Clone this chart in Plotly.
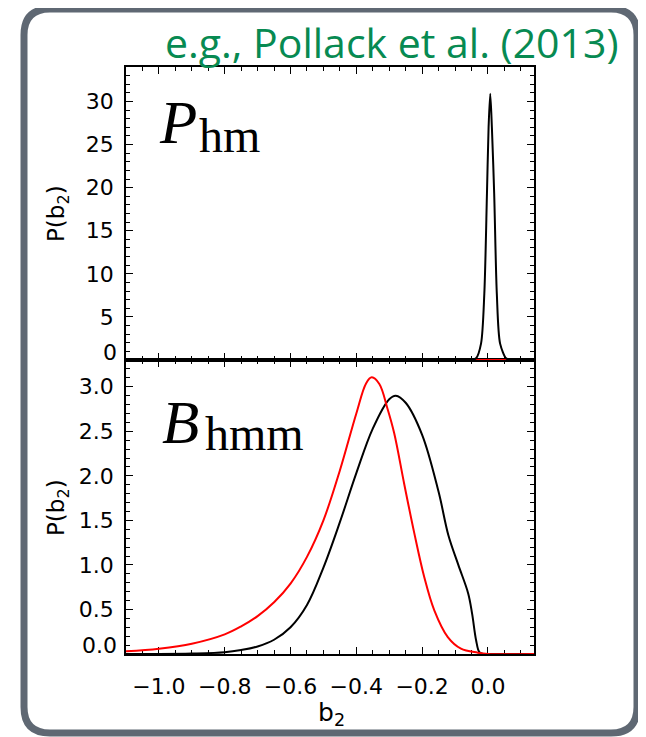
import plotly.graph_objects as go

# ---------------- data ----------------
# top panel (P_hm): black curve
top_black_x = [-1.1, -0.5, -0.08, -0.045, -0.036, -0.021, -0.011, -0.003, 0.002, 0.007,
               0.012, 0.019, 0.027, 0.037, 0.055, 0.063, 0.09, 0.14]
top_black_y = [0.0, 0.0, 0.0, 0.05, 0.2, 1.9, 7.7, 19.3, 27.0, 30.9,
               27.0, 19.3, 7.7, 1.9, 0.2, 0.05, 0.0, 0.0]
# top panel red curve (flat at zero)
top_red_x = [-1.1, 0.14]
top_red_y = [0.0, 0.0]

# bottom panel (B_hmm)
bot_black_x = [-1.1, -1.0, -0.9, -0.8, -0.75, -0.7, -0.65, -0.6, -0.55, -0.5,
               -0.45, -0.4, -0.35, -0.3, -0.28, -0.25, -0.2, -0.15, -0.12,
               -0.09, -0.06, -0.048, -0.036, -0.026, -0.015, 0.0, 0.14]
bot_black_y = [0.0, 0.0, 0.005, 0.02, 0.045, 0.085, 0.16, 0.3, 0.55, 0.97,
               1.48, 2.03, 2.53, 2.86, 2.90, 2.82, 2.46, 1.82, 1.33,
               1.0, 0.68, 0.45, 0.155, 0.02, 0.0, 0.0, 0.0]
bot_red_x = [-1.1, -1.0, -0.9, -0.8, -0.75, -0.7, -0.65, -0.6, -0.55, -0.5,
             -0.45, -0.4, -0.37, -0.353, -0.33, -0.305, -0.285, -0.254, -0.224, -0.194,
             -0.163, -0.122, -0.082, -0.031, 0.0, 0.14]
bot_red_y = [0.03, 0.06, 0.115, 0.22, 0.31, 0.425, 0.58, 0.79, 1.09, 1.5,
             2.06, 2.7, 3.04, 3.105, 3.03, 2.75, 2.48, 1.90, 1.36, 0.87,
             0.49, 0.19, 0.06, 0.015, 0.0, 0.0]

x_tickvals = [-1.0, -0.8, -0.6, -0.4, -0.2, 0.0]
top_tickvals = [5, 10, 15, 20, 25, 30]
top_ticktext = ["5", "10", "15", "20", "25", "30"]
bot_tickvals = [0.5, 1.0, 1.5, 2.0, 2.5, 3.0]
bot_ticktext = ["0.5", "1.0", "1.5", "2.0", "2.5", "3.0"]
top_zero_label = "0"
bot_zero_label = "0.0"

title_text = "e.g., Pollack et al. (2013)"
y_title = "P(b<sub>2</sub>)"
x_title = "b<sub>2</sub>"

# ---------------- layout helpers ----------------
# the page body adds an 8 px margin, so the figure is 8 px smaller and shifted
OFF = 8
W, H = 646 - OFF, 737 - OFF
ML_REF, MT_REF = 126, 67
PW, PH = 408, 587
ML, MT = ML_REF - OFF, MT_REF - OFF
MR, MB = W - ML - PW, H - MT - PH
BOTTOM_REF = MT_REF + PH  # 654
def px(xp):
    return (xp - ML_REF) / PW
def py(yp):
    return (BOTTOM_REF - yp) / PH

split = py(360)

fig = go.Figure()
fig.add_trace(go.Scatter(x=top_red_x, y=top_red_y, xaxis="x2", yaxis="y2", mode="lines",
                         line=dict(color="red", width=2), showlegend=False))
fig.add_trace(go.Scatter(x=top_black_x, y=top_black_y, xaxis="x2", yaxis="y2", mode="lines",
                         line=dict(color="black", width=2, shape="spline", smoothing=0.8),
                         showlegend=False))
fig.add_trace(go.Scatter(x=bot_black_x, y=bot_black_y, xaxis="x", yaxis="y", mode="lines",
                         line=dict(color="black", width=2, shape="spline", smoothing=1.0),
                         showlegend=False))
fig.add_trace(go.Scatter(x=bot_red_x, y=bot_red_y, xaxis="x", yaxis="y", mode="lines",
                         line=dict(color="red", width=2, shape="spline", smoothing=1.0),
                         showlegend=False))

tickfont = dict(family="DejaVu Sans", size=22, color="black")
common = dict(showline=True, linecolor="black", linewidth=1.5, mirror="ticks",
              ticks="inside", ticklen=7, tickwidth=1, tickcolor="black",
              showgrid=False, zeroline=False, layer="below traces", tickfont=tickfont)

fig.update_layout(
    width=W, height=H,
    margin=dict(l=ML, r=MR, t=MT, b=MB),
    paper_bgcolor="white", plot_bgcolor="white",
    xaxis=dict(domain=[0, 1], anchor="y", range=[-1.1, 0.14], tickmode="array",
               tickvals=x_tickvals, tickformat=".1f", ticklabelstandoff=12,
               minor=dict(ticks="inside", ticklen=4, tickwidth=1, tickcolor="black",
                          tickmode="linear", tick0=0, dtick=0.05),
               **common),
    xaxis2=dict(domain=[0, 1], anchor="y2", range=[-1.1, 0.14], matches="x",
                tickmode="array", tickvals=x_tickvals, showticklabels=False,
                minor=dict(ticks="inside", ticklen=4, tickwidth=1, tickcolor="black",
                           tickmode="linear", tick0=0, dtick=0.05),
                **common),
    yaxis=dict(domain=[0, split], anchor="x", range=[0, 3.3], tickmode="array",
               tickvals=bot_tickvals, ticktext=bot_ticktext, ticklabelstandoff=6,
               minor=dict(ticks="inside", ticklen=4, tickwidth=1, tickcolor="black",
                          tickmode="linear", tick0=0, dtick=0.1),
               **common),
    yaxis2=dict(domain=[split, 1], anchor="x2", range=[0, 34], tickmode="array",
                tickvals=top_tickvals, ticktext=top_ticktext, ticklabelstandoff=6,
                minor=dict(ticks="inside", ticklen=4, tickwidth=1, tickcolor="black",
                           tickmode="linear", tick0=0, dtick=1),
                **common),
)

ann = []
# zero labels, raised like the original
ann.append(dict(text=top_zero_label, xref="paper", yref="y2", x=0, y=0, xanchor="right",
                yanchor="middle", xshift=-7, yshift=8, showarrow=False, font=tickfont))
ann.append(dict(text=bot_zero_label, xref="paper", yref="y", x=0, y=0, xanchor="right",
                yanchor="middle", xshift=-7, yshift=9, showarrow=False, font=tickfont))
# axis titles
axfont = dict(family="DejaVu Sans", size=23, color="black")
ann.append(dict(text=y_title, xref="paper", yref="paper", x=px(58), y=py(214),
                textangle=-90, xanchor="center", yanchor="middle", showarrow=False, font=axfont))
ann.append(dict(text=y_title, xref="paper", yref="paper", x=px(58), y=py(508),
                textangle=-90, xanchor="center", yanchor="middle", showarrow=False, font=axfont))
ann.append(dict(text=x_title, xref="paper", yref="paper", x=px(331), y=py(714),
                xanchor="center", yanchor="middle", showarrow=False,
                font=dict(family="DejaVu Sans", size=25, color="black")))
# panel labels
serif = "Liberation Serif"
ann.append(dict(text="<i>P</i>", xref="paper", yref="paper", x=px(157), y=py(123),
                xanchor="left", yanchor="middle", showarrow=False,
                font=dict(family=serif, size=61, color="black")))
ann.append(dict(text="hm", xref="paper", yref="paper", x=px(197), y=py(136),
                xanchor="left", yanchor="middle", showarrow=False,
                font=dict(family=serif, size=48, color="black")))
ann.append(dict(text="<i>B</i>", xref="paper", yref="paper", x=px(160), y=py(422),
                xanchor="left", yanchor="middle", showarrow=False,
                font=dict(family=serif, size=61, color="black")))
ann.append(dict(text="hmm", xref="paper", yref="paper", x=px(203), y=py(433),
                xanchor="left", yanchor="middle", showarrow=False,
                font=dict(family=serif, size=48, color="black")))
# title
ann.append(dict(text=title_text, xref="paper", yref="paper", x=px(621), y=py(42),
                xanchor="right", yanchor="middle", showarrow=False,
                font=dict(family="Open Sans", size=41, color="#078a52")))
fig.update_layout(annotations=ann)

# rounded gray frame
L, R, T, B, r = 24, 637, 9, 733, 26
path = (f"M {px(L + r)} {py(T)} L {px(R - r)} {py(T)} Q {px(R)} {py(T)} {px(R)} {py(T + r)} "
        f"L {px(R)} {py(B - r)} Q {px(R)} {py(B)} {px(R - r)} {py(B)} "
        f"L {px(L + r)} {py(B)} Q {px(L)} {py(B)} {px(L)} {py(B - r)} "
        f"L {px(L)} {py(T + r)} Q {px(L)} {py(T)} {px(L + r)} {py(T)} Z")
fig.add_shape(type="path", path=path, xref="paper", yref="paper",
              line=dict(color="#5f6873", width=7), layer="above")

fig.write_html("out.html")
